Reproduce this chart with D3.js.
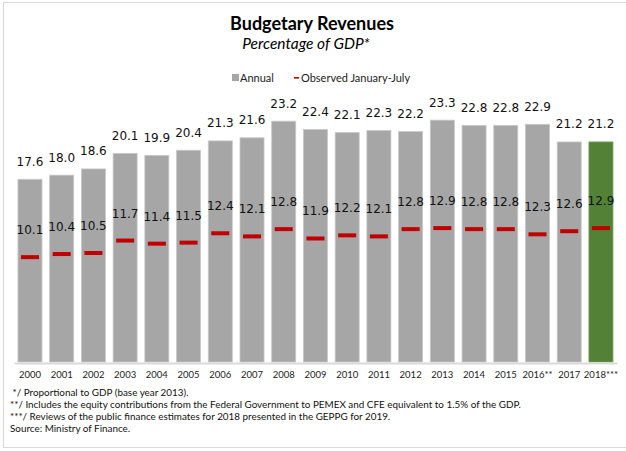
<!DOCTYPE html>
<html>
<head>
<meta charset="utf-8">
<script src="https://cdn.jsdelivr.net/npm/d3@7/dist/d3.min.js"></script>
<style>
  html, body { margin: 0; padding: 0; background: #fff; }
  svg { display: block; }
</style>
</head>
<body>
<svg id="chart" width="626" height="451"></svg>
<script>
// Budgetary revenues, % of GDP
const years = ["2000","2001","2002","2003","2004","2005","2006","2007","2008","2009",
               "2010","2011","2012","2013","2014","2015","2016**","2017","2018***"];
const annual = [17.6,18.0,18.6,20.1,19.9,20.4,21.3,21.6,23.2,22.4,
                22.1,22.3,22.2,23.3,22.8,22.8,22.9,21.2,21.2];
const janJul = [10.1,10.4,10.5,11.7,11.4,11.5,12.4,12.1,12.8,11.9,
                12.2,12.1,12.8,12.9,12.8,12.8,12.3,12.6,12.9];
const highlightYear = "2018***";

const legendItems = ["Annual", "Observed January-July"];
const footnotes = [
  " */ Proportional to GDP (base year 2013).",
  "**/ Includes the equity contributions from the Federal Government to PEMEX and CFE equivalent to 1.5% of the GDP.",
  "***/ Reviews of the public finance estimates for 2018 presented in the GEPPG for 2019.",
  "Source: Ministry of Finance."
];

const rows = years.map((y, i) => ({ year: y, annual: annual[i], jj: janJul[i] }));

const svg = d3.select("#chart");
const labelFont = "Lato, 'Open Sans', sans-serif";
const valueFont = "'DejaVu Sans', Verdana, sans-serif";

// outer frame
svg.append("rect")
  .attr("x", 3.5).attr("y", 2.5)
  .attr("width", 640).attr("height", 445)
  .attr("fill", "none").attr("stroke", "#d9d9d9").attr("stroke-width", 1);

// titles
svg.append("text")
  .attr("x", 312).attr("y", 30)
  .attr("text-anchor", "middle")
  .style("font-family", labelFont).style("font-weight", 700).style("font-size", "18px")
  .attr("fill", "#000")
  .text("Budgetary Revenues");
svg.append("text")
  .attr("x", 306).attr("y", 49)
  .attr("text-anchor", "middle")
  .style("font-family", labelFont).style("font-style", "italic").style("font-size", "15.5px")
  .attr("fill", "#000")
  .text("Percentage of GDP*");

// scales
const baseY = 362;
const x = d3.scaleBand()
  .domain(years)
  .range([14.1, 616.8])
  .paddingInner(0.243)
  .paddingOuter(0.1215);
const y = d3.scaleLinear().domain([0, 25]).range([baseY, baseY - 25 * 10.38]);

// bars
svg.append("g").selectAll("rect")
  .data(rows)
  .join("rect")
  .attr("x", d => x(d.year))
  .attr("y", d => y(d.annual))
  .attr("width", x.bandwidth())
  .attr("height", d => y(0) - y(d.annual))
  .attr("fill", d => d.year === highlightYear ? "#538135" : "#a6a6a6")
  .attr("stroke", d => d.year === highlightYear ? "#73a05a" : "#c8c8c8")
  .attr("stroke-width", 0.8);

// January-July markers
const mw = 18;
svg.append("g").selectAll("rect")
  .data(rows)
  .join("rect")
  .attr("x", d => x(d.year) + (x.bandwidth() - mw) / 2)
  .attr("y", d => y(d.jj) - 2)
  .attr("width", mw)
  .attr("height", 4)
  .attr("fill", "#c00000");

// value labels
svg.append("g").selectAll("text")
  .data(rows)
  .join("text")
  .attr("x", d => x(d.year) + x.bandwidth() / 2)
  .attr("y", d => y(d.annual) - 13.5)
  .attr("text-anchor", "middle")
  .style("font-family", valueFont).style("font-size", "12px")
  .attr("fill", "#111")
  .text(d => d.annual.toFixed(1));
svg.append("g").selectAll("text")
  .data(rows)
  .join("text")
  .attr("x", d => x(d.year) + x.bandwidth() / 2)
  .attr("y", d => y(d.jj) - 23)
  .attr("text-anchor", "middle")
  .style("font-family", valueFont).style("font-size", "12px")
  .attr("fill", "#111")
  .text(d => d.jj.toFixed(1));

// category axis
const ax = svg.append("g")
  .attr("transform", `translate(0,${baseY + 1})`)
  .call(d3.axisBottom(x).tickSize(0).tickSizeOuter(0).tickPadding(8));
ax.select(".domain").attr("stroke", "#d9d9d9").attr("stroke-width", 2);
ax.selectAll("text")
  .style("font-family", labelFont).style("font-size", "9.5px")
  .attr("fill", "#222");

// legend
const lg = svg.append("g").attr("transform", "translate(232,74)");
lg.append("rect").attr("x", 0).attr("y", 0).attr("width", 7).attr("height", 7).attr("fill", "#a6a6a6");
lg.append("text").attr("x", 8).attr("y", 7.8)
  .style("font-family", labelFont).style("font-size", "11px").attr("fill", "#222")
  .text(legendItems[0]);
lg.append("rect").attr("x", 62).attr("y", 3).attr("width", 5).attr("height", 1.6).attr("fill", "#c00000");
lg.append("text").attr("x", 69).attr("y", 7.8)
  .style("font-family", labelFont).style("font-size", "11px").attr("fill", "#222")
  .text(legendItems[1]);

// footnotes
svg.append("g").selectAll("text")
  .data(footnotes)
  .join("text")
  .attr("x", 10)
  .attr("y", (d, i) => 395.5 + i * 12)
  .attr("xml:space", "preserve")
  .style("white-space", "pre")
  .style("font-family", labelFont).style("font-size", "9.9px")
  .attr("fill", "#111")
  .text(d => d);
</script>
</body>
</html>
